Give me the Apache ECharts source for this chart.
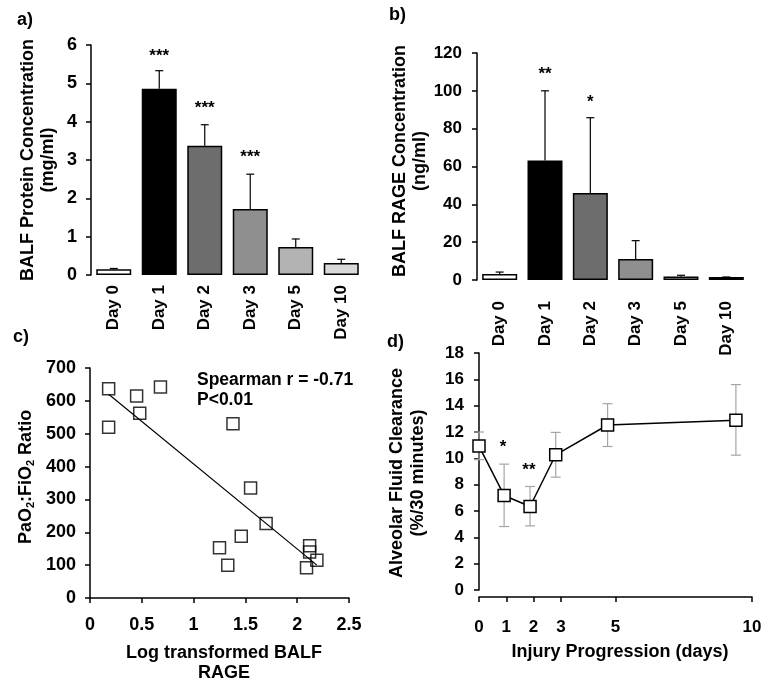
<!DOCTYPE html>
<html><head><meta charset="utf-8">
<script src="https://cdn.jsdelivr.net/npm/echarts@6/dist/echarts.min.js"></script>
<style>html,body{margin:0;padding:0;background:#fff}#c{width:783px;height:693px}</style>
</head><body><div id="c"></div>
<script>
// ---- data ----
const days = ['Day 0','Day 1','Day 2','Day 3','Day 5','Day 10'];
const proteinMean  = [0.15, 4.86, 3.37, 1.72, 0.73, 0.31];
const proteinUpper = [0.17, 5.33, 3.92, 2.63, 0.94, 0.41];
const proteinStarIdx = [1, 2, 3];
const proteinStarY = [5.7, 4.35, 3.07];
const proteinStars = ['***', '***', '***'];
const rageMean  = [3.2, 63.2, 46.0, 11.1, 1.9, 1.6];
const rageUpper = [4.2, 100, 85.8, 20.8, 2.5, 1.6];
const rageStarIdx = [1, 2];
const rageStarY = [108.7, 94];
const rageStars = ['**', '*'];
const logRage = [0.18, 0.18, 0.45, 0.48, 0.68, 1.38, 1.55, 1.70, 1.46, 1.25, 1.33, 2.12, 2.12, 2.19, 2.09];
const pfRatio = [637, 520, 615, 562, 642, 530, 335, 227, 188, 153, 100, 159, 140, 115, 92];
const fitX = [0.18, 2.19];
const fitY = [620, 100];
const afcDay  = [0, 0.92, 1.87, 2.81, 4.71, 9.41];
const afcMean = [10.93, 7.18, 6.34, 10.27, 12.53, 12.9];
const afcLow  = [9.9, 4.82, 4.87, 8.57, 10.9, 10.24];
const afcHigh = [12.0, 9.56, 7.86, 11.97, 14.15, 15.6];
const afcStarX = [0.88, 1.83];
const afcStarY = [10.8, 9.07];
const afcStars = ['*', '**'];
const dayTicks = [0, 1, 2, 3, 5, 10];

// ---- styles ----
const barColors = ['#ffffff', '#000000', '#6d6d6d', '#8f8f8f', '#b3b3b3', '#d9d9d9'];
const FF = '"Liberation Sans", Arial, sans-serif';
const axLine = {show: true, onZero: false, lineStyle: {color: '#000', width: 1.5}};
const axTick = {show: true, length: 5, lineStyle: {color: '#000', width: 1.5}};
const tickLab = (m, fs) => ({color: '#000', fontFamily: FF, fontWeight: 'bold', fontSize: fs || 18, margin: m});

function upperErr(cap) {
  return function (params, api) {
    const x = api.value(0);
    const lo = api.coord([x, api.value(1)]);
    const hi = api.coord([x, api.value(2)]);
    return {type: 'group', children: [
      {type: 'line', shape: {x1: lo[0], y1: lo[1], x2: hi[0], y2: hi[1]}, style: {stroke: '#000', lineWidth: 1.2}},
      {type: 'line', shape: {x1: hi[0] - cap, y1: hi[1], x2: hi[0] + cap, y2: hi[1]}, style: {stroke: '#000', lineWidth: 1.2}}
    ]};
  };
}
function bothErr(cap, color) {
  return function (params, api) {
    const x = api.value(0);
    const lo = api.coord([x, api.value(1)]);
    const hi = api.coord([x, api.value(2)]);
    return {type: 'group', children: [
      {type: 'line', shape: {x1: lo[0], y1: lo[1], x2: hi[0], y2: hi[1]}, style: {stroke: color, lineWidth: 1.2}},
      {type: 'line', shape: {x1: hi[0] - cap, y1: hi[1], x2: hi[0] + cap, y2: hi[1]}, style: {stroke: color, lineWidth: 1.2}},
      {type: 'line', shape: {x1: lo[0] - cap, y1: lo[1], x2: lo[0] + cap, y2: lo[1]}, style: {stroke: color, lineWidth: 1.2}}
    ]};
  };
}
function starRender(texts) {
  return function (params, api) {
    const p = api.coord([api.value(0), api.value(1)]);
    return {type: 'text', x: p[0], y: p[1],
      style: {text: texts[params.dataIndex], font: 'bold 17px ' + FF, align: 'center', verticalAlign: 'middle', fill: '#000'}};
  };
}

const chart = echarts.init(document.getElementById('c'), null, {renderer: 'canvas'});
const titleFont = 'bold 18px ' + FF;

chart.setOption({
  animation: false,
  backgroundColor: '#fff',
  grid: [
    {left: 91, top: 45, width: 273, height: 230, outerBoundsMode: 'none'},
    {left: 477, top: 53, width: 272, height: 227, outerBoundsMode: 'none'},
    {left: 90, top: 368, width: 259, height: 230, outerBoundsMode: 'none'},
    {left: 479, top: 353, width: 273, height: 237, outerBoundsMode: 'none'}
  ],
  xAxis: [
    {gridIndex: 0, type: 'category', data: days, axisLine: {show: false}, axisTick: {show: false},
      axisLabel: {interval: 0, rotate: 90, color: '#000', fontFamily: FF, fontWeight: 'bold', fontSize: 17, margin: 10}},
    {gridIndex: 1, type: 'category', data: days, axisLine: {show: false}, axisTick: {show: false},
      axisLabel: {interval: 0, rotate: 90, color: '#000', fontFamily: FF, fontWeight: 'bold', fontSize: 17, margin: 21}},
    {gridIndex: 2, type: 'value', min: 0, max: 2.5, interval: 0.5, splitLine: {show: false},
      axisLine: axLine, axisTick: axTick, axisLabel: tickLab(18)},
    {gridIndex: 3, type: 'value', min: 0, max: 10, offset: 7, splitLine: {show: false},
      axisLine: axLine, axisTick: Object.assign({}, axTick, {customValues: dayTicks}),
      axisLabel: Object.assign(tickLab(22, 17), {customValues: dayTicks})}
  ],
  yAxis: [
    {gridIndex: 0, type: 'value', min: 0, max: 6, interval: 1, splitLine: {show: false}, axisLine: axLine, axisTick: axTick, axisLabel: tickLab(14)},
    {gridIndex: 1, type: 'value', min: 0, max: 120, interval: 20, splitLine: {show: false}, axisLine: axLine, axisTick: axTick, axisLabel: tickLab(15, 17)},
    {gridIndex: 2, type: 'value', min: 0, max: 700, interval: 100, splitLine: {show: false}, axisLine: axLine, axisTick: axTick, axisLabel: tickLab(14)},
    {gridIndex: 3, type: 'value', min: 0, max: 18, interval: 2, splitLine: {show: false}, axisLine: axLine, axisTick: axTick, axisLabel: tickLab(15, 17)}
  ],
  series: [
    {type: 'bar', xAxisIndex: 0, yAxisIndex: 0, barWidth: 35,
      itemStyle: {borderColor: '#000', borderWidth: 1.5},
      data: proteinMean.map((v, i) => ({value: v, itemStyle: {color: barColors[i]}}))},
    {type: 'custom', xAxisIndex: 0, yAxisIndex: 0, z: 3, renderItem: upperErr(4),
      data: proteinMean.map((v, i) => [i, v, proteinUpper[i]])},
    {type: 'custom', xAxisIndex: 0, yAxisIndex: 0, z: 4, renderItem: starRender(proteinStars),
      data: proteinStarIdx.map((c, i) => [c, proteinStarY[i]])},

    {type: 'bar', xAxisIndex: 1, yAxisIndex: 1, barWidth: 35,
      itemStyle: {borderColor: '#000', borderWidth: 1.5},
      data: rageMean.map((v, i) => ({value: v, itemStyle: {color: barColors[i]}}))},
    {type: 'custom', xAxisIndex: 1, yAxisIndex: 1, z: 3, renderItem: upperErr(4),
      data: rageMean.map((v, i) => [i, v, rageUpper[i]])},
    {type: 'custom', xAxisIndex: 1, yAxisIndex: 1, z: 4, renderItem: starRender(rageStars),
      data: rageStarIdx.map((c, i) => [c, rageStarY[i]])},

    {type: 'scatter', xAxisIndex: 2, yAxisIndex: 2, symbol: 'rect', symbolSize: 12,
      itemStyle: {color: 'rgba(255,255,255,0)', borderColor: '#000', borderWidth: 1.5},
      data: logRage.map((x, i) => [x, pfRatio[i]])},
    {type: 'line', xAxisIndex: 2, yAxisIndex: 2, symbol: 'none', z: 3,
      lineStyle: {color: '#000', width: 1.2}, data: fitX.map((x, i) => [x, fitY[i]])},

    {type: 'custom', xAxisIndex: 3, yAxisIndex: 3, z: 1, renderItem: bothErr(5, '#a6a6a6'),
      data: afcDay.map((x, i) => [x, afcLow[i], afcHigh[i]])},
    {type: 'line', xAxisIndex: 3, yAxisIndex: 3, z: 3, symbol: 'rect', symbolSize: 12,
      lineStyle: {color: '#000', width: 1.5},
      itemStyle: {color: '#fff', borderColor: '#000', borderWidth: 1.5},
      data: afcDay.map((x, i) => [x, afcMean[i]])},
    {type: 'custom', xAxisIndex: 3, yAxisIndex: 3, z: 4, renderItem: starRender(afcStars),
      data: afcStarX.map((x, i) => [x, afcStarY[i]])}
  ],
  graphic: [
    {type: 'text', x: 17, y: 20, style: {text: 'a)', font: titleFont, align: 'left', verticalAlign: 'middle', fill: '#000'}},
    {type: 'text', x: 389, y: 15, style: {text: 'b)', font: titleFont, align: 'left', verticalAlign: 'middle', fill: '#000'}},
    {type: 'text', x: 13, y: 337, style: {text: 'c)', font: titleFont, align: 'left', verticalAlign: 'middle', fill: '#000'}},
    {type: 'text', x: 387, y: 342, style: {text: 'd)', font: titleFont, align: 'left', verticalAlign: 'middle', fill: '#000'}},
    {type: 'text', x: 38, y: 160, rotation: Math.PI / 2,
      style: {text: 'BALF Protein Concentration\n(mg/ml)', font: titleFont, lineHeight: 20, align: 'center', verticalAlign: 'middle', fill: '#000'}},
    {type: 'text', x: 410, y: 161, rotation: Math.PI / 2,
      style: {text: 'BALF RAGE Concentration\n(ng/ml)', font: titleFont, lineHeight: 20, align: 'center', verticalAlign: 'middle', fill: '#000'}},
    {type: 'text', x: 26, y: 477, rotation: Math.PI / 2,
      style: {text: '{a|PaO}{b|2}{a|:FiO}{b|2}{a| Ratio}', align: 'center', verticalAlign: 'middle', fill: '#000',
        rich: {a: {font: titleFont, lineHeight: 20, fill: '#000'}, b: {font: 'bold 11px ' + FF, lineHeight: 20, verticalAlign: 'bottom', fill: '#000'}}}},
    {type: 'text', x: 408, y: 473, rotation: Math.PI / 2,
      style: {text: 'Alveolar Fluid Clearance\n(%/30 minutes)', font: titleFont, lineHeight: 21, align: 'center', verticalAlign: 'middle', fill: '#000'}},
    {type: 'text', x: 224, y: 663,
      style: {text: 'Log transformed BALF\nRAGE', font: titleFont, lineHeight: 20, align: 'center', verticalAlign: 'middle', fill: '#000'}},
    {type: 'text', x: 620, y: 652,
      style: {text: 'Injury Progression (days)', font: titleFont, align: 'center', verticalAlign: 'middle', fill: '#000'}},
    {type: 'text', x: 197, y: 390,
      style: {text: 'Spearman r = -0.71\nP<0.01', font: 'bold 17.5px ' + FF, lineHeight: 20, align: 'left', verticalAlign: 'middle', fill: '#000'}}
  ]
});
</script>
</body></html>
